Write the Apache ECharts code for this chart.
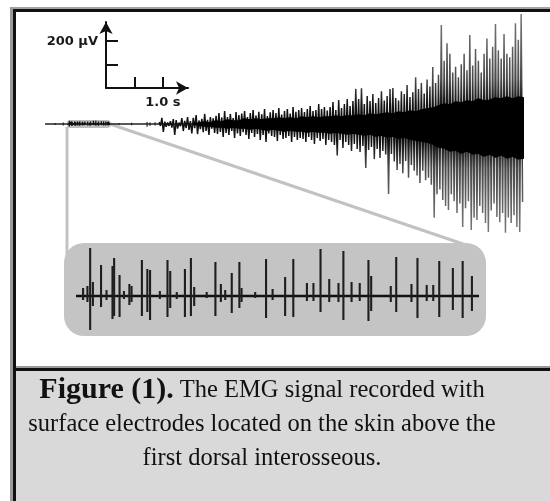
<!DOCTYPE html>
<html>
<head>
<meta charset="utf-8">
<title>EMG signal</title>
<script src="https://cdn.jsdelivr.net/npm/echarts@6/dist/echarts.min.js"></script>
<style>
html, body { margin: 0; padding: 0; background: #fff; }
#emg { width: 550px; height: 501px; }
</style>
</head>
<body>
<div id="emg"></div>
<script>
// recording: spike peaks (µV) sampled every 0.05 s from 2.0 s
const spikeStart = 2.0;
const spikeStep = 0.05;
const spikeHigh = [
  8, 26, 10, 6, 12, 21, 17, 6, 25, 13,
  30, 12, 26, 38, 15, 22, 43, 18, 30, 24,
  35, 47, 28, 55, 30, 43, 25, 51, 38, 45,
  55, 30, 47, 60, 36, 52, 42, 64, 34, 50,
  60, 47, 68, 40, 55, 64, 45, 72, 52, 60,
  68, 51, 64, 77, 55, 60, 85, 64, 72, 58,
  72, 94, 60, 102, 68, 85, 107, 77, 98, 150,
  107, 153, 85, 120, 98, 128, 90, 111, 140, 100,
  120, 150, 154, 111, 100, 140, 128, 167, 115, 136,
  200, 150, 175, 130, 190, 160, 243, 175, 210, 423,
  270, 345, 300, 220, 245, 200, 255, 300, 230, 380,
  250, 320, 270, 220, 300, 365, 280, 330, 427, 315,
  280, 385, 300, 285, 330, 430, 360, 470
];
const spikeLow = [
  -8, -34, -12, -8, -15, -47, -20, -10, -30, -17,
  -25, -40, -18, -43, -22, -35, -30, -47, -20, -38,
  -43, -34, -55, -38, -47, -30, -60, -40, -51, -35,
  -47, -64, -38, -55, -43, -68, -47, -77, -40, -51,
  -55, -72, -47, -64, -60, -51, -77, -55, -68, -60,
  -64, -77, -55, -68, -85, -60, -72, -64, -90, -68,
  -77, -90, -135, -68, -102, -77, -90, -115, -85, -107,
  -120, -94, -188, -111, -98, -150, -107, -145, -115, -130,
  -299, -128, -160, -196, -171, -210, -158, -230, -175, -200,
  -220, -252, -200, -240, -230, -260, -401, -300, -280, -325,
  -350, -367, -300, -330, -380, -340, -440, -360, -330, -453,
  -401, -410, -350, -380, -423, -461, -370, -340, -397, -420,
  -380, -465, -400, -423, -390, -440, -461, -333
];

// isolated blips before the contraction starts
const earlyTime = [0.18, 0.32, 1.30, 1.52, 1.79, 1.84, 1.93];
const earlyHigh = [4, 6, 4, 5, 9, 6, 8];
const earlyLow = [-4, -6, -4, -5, -12, -8, -6];

// dense black core of the signal (µV), every 0.1 s from 2.6 s
const coreTime = [2.6, 2.7, 2.8, 2.9, 3.0, 3.1, 3.2, 3.3, 3.4, 3.5,
  3.6, 3.7, 3.8, 3.9, 4.0, 4.1, 4.2, 4.3, 4.4, 4.5,
  4.6, 4.7, 4.8, 4.9, 5.0, 5.1, 5.2, 5.3, 5.4, 5.5,
  5.6, 5.7, 5.8, 5.9, 6.0, 6.1, 6.2, 6.3, 6.4, 6.5,
  6.6, 6.7, 6.8, 6.9, 7.0, 7.1, 7.2, 7.3, 7.4, 7.5,
  7.6, 7.7, 7.8, 7.9, 8.0, 8.1, 8.2, 8.3, 8.4];
const coreHigh = [0, 4, 9, 4, 13, 9, 17, 13, 13, 21,
  17, 21, 17, 21, 21, 26, 21, 26, 21, 30,
  26, 30, 26, 30, 30, 34, 30, 34, 34, 38,
  34, 43, 38, 43, 47, 43, 51, 47, 56, 51,
  60, 64, 68, 77, 85, 81, 94, 90, 98, 94,
  107, 98, 102, 111, 107, 115, 107, 115, 111];
const coreLow = [0, -4, -9, -9, -13, -13, -17, -13, -17, -17,
  -21, -17, -21, -26, -21, -26, -30, -26, -30, -30,
  -34, -30, -34, -34, -38, -34, -38, -43, -38, -43,
  -47, -43, -51, -47, -56, -51, -60, -56, -64, -68,
  -73, -77, -85, -98, -102, -115, -111, -124, -115, -128,
  -124, -137, -128, -141, -132, -145, -137, -149, -145];

// magnified window 0.40 - 1.14 s
const zoomStart = 0.40;
const zoomEnd = 1.14;
const zoomTime = [0.413, 0.421, 0.426, 0.431, 0.446, 0.456, 0.467, 0.470, 0.480, 0.488,
  0.498, 0.502, 0.521, 0.531, 0.536, 0.554, 0.568, 0.573, 0.585, 0.600,
  0.611, 0.617, 0.640, 0.656, 0.666, 0.674, 0.686, 0.700, 0.704, 0.729,
  0.749, 0.761, 0.784, 0.799, 0.824, 0.836, 0.849, 0.865, 0.882, 0.891,
  0.906, 0.921, 0.937, 0.942, 0.978, 0.988, 1.016, 1.027, 1.044, 1.056,
  1.067, 1.092, 1.110, 1.127];
const zoomHigh = [2.4, 3.0, 14.4, 4.2, 9.3, 1.8, 9.0, 11.4, 6.3, 1.5,
  3.6, 3.0, 10.8, 8.1, 7.8, 1.5, 10.8, 7.5, 1.2, 8.1,
  11.4, 2.7, 1.2, 10.2, 3.6, 1.8, 6.9, 10.2, 2.4, 1.2,
  11.1, 2.1, 5.7, 11.1, 3.9, 3.9, 14.1, 5.1, 3.9, 13.5,
  4.2, 3.9, 10.8, 6.0, 3.0, 11.7, 3.6, 11.4, 3.3, 3.3,
  10.5, 8.4, 10.5, 6.0];
const zoomLow = [-1.2, -1.8, -10.2, -3.0, -3.3, -1.2, -6.9, -6.0, -6.3, -0.9,
  -2.7, -1.8, -6.0, -4.8, -7.2, -0.9, -6.3, -3.6, -0.9, -6.3,
  -6.0, -3.0, -0.6, -6.0, -1.8, -1.2, -5.1, -3.6, -1.8, -0.6,
  -6.6, -1.2, -6.0, -6.3, -1.5, -1.5, -4.8, -1.8, -1.8, -7.2,
  -1.8, -1.5, -7.5, -4.5, -1.8, -4.8, -1.8, -6.6, -1.5, -1.5,
  -6.3, -4.2, -6.6, -4.5];

// scale bar
const barTimeTicks = [0.5, 1.0];
const barTimeLabels = ['', '1.0 s'];
const barVoltTicks = [100, 200];
const barVoltLabels = ['', '200 µV'];

const captionLines = [
  '{b|Figure (1).} The EMG signal recorded with',
  'surface electrodes located on the skin above the',
  'first dorsal interosseous.'
];

// 数据整理：每个采样先到正峰，半步后到负峰
const spikeTrace = [];
spikeHigh.forEach((h, i) => {
  const t = spikeStart + i * spikeStep;
  spikeTrace.push([+t.toFixed(3), h]);
  spikeTrace.push([+(t + spikeStep / 2).toFixed(3), spikeLow[i]]);
});
const earlySpikes = earlyTime.map((t, i) => [t, earlyLow[i], earlyHigh[i]]);
const zoomSpikes = zoomTime.map((t, i) => [t, zoomLow[i], zoomHigh[i]]);

// 竖线形式画单个尖峰
function spikeRenderer(width, color) {
  return function (params, api) {
    const t = api.value(0);
    const top = api.coord([t, api.value(2)]);
    const bottom = api.coord([t, api.value(1)]);
    return {
      type: 'line',
      shape: { x1: top[0], y1: top[1], x2: bottom[0], y2: bottom[1] },
      style: { stroke: color, lineWidth: width }
    };
  };
}

const barAxisFont = { fontFamily: 'DejaVu Sans', fontWeight: 'bold', fontSize: 13, color: '#1a1a1a' };
const traceColor = new echarts.graphic.LinearGradient(0, 0, 0, 1, [
  { offset: 0, color: '#7a7a7a' },
  { offset: 0.3, color: '#4a4a4a' },
  { offset: 0.42, color: '#111' },
  { offset: 0.58, color: '#111' },
  { offset: 0.7, color: '#4a4a4a' },
  { offset: 1, color: '#7a7a7a' }
]);

const option = {
  animation: false,
  backgroundColor: '#fff',
  grid: [
    { left: 45, top: 14, width: 479, height: 220, outerBoundsMode: 'none' },
    { left: 76, top: 246, width: 403, height: 100, outerBoundsMode: 'none' },
    { left: 106, top: 22, width: 82, height: 66, outerBoundsMode: 'none' }
  ],
  xAxis: [
    { gridIndex: 0, type: 'value', min: 0, max: 8.4, show: false },
    { gridIndex: 1, type: 'value', min: zoomStart, max: zoomEnd, show: false },
    {
      gridIndex: 2, type: 'value', min: 0, max: 1.44,
      splitLine: { show: false },
      axisLine: { show: true, symbol: ['none', 'arrow'], symbolSize: [10, 12], lineStyle: { color: '#111', width: 2 } },
      axisTick: { show: true, inside: true, length: 11, customValues: barTimeTicks, lineStyle: { color: '#111', width: 2 } },
      axisLabel: Object.assign({ margin: 8, customValues: barTimeTicks,
        formatter: v => barTimeLabels[barTimeTicks.indexOf(v)] || '' }, barAxisFont)
    }
  ],
  yAxis: [
    { gridIndex: 0, type: 'value', min: -470, max: 470, show: false },
    { gridIndex: 1, type: 'value', min: -15, max: 15, show: false },
    {
      gridIndex: 2, type: 'value', min: 0, max: 282,
      splitLine: { show: false },
      axisLine: { show: true, symbol: ['none', 'arrow'], symbolSize: [10, 12], lineStyle: { color: '#111', width: 2 } },
      axisTick: { show: true, inside: true, length: 12, customValues: barVoltTicks, lineStyle: { color: '#111', width: 2 } },
      axisLabel: Object.assign({ margin: 8, customValues: barVoltTicks,
        formatter: v => barVoltLabels[barVoltTicks.indexOf(v)] || '' }, barAxisFont)
    }
  ],
  series: [
    {
      name: 'baseline', type: 'line', xAxisIndex: 0, yAxisIndex: 0,
      data: [[0, 0], [8.4, 0]], symbol: 'none', z: 2,
      lineStyle: { color: '#222', width: 1.3 }
    },
    {
      name: 'trace', type: 'line', xAxisIndex: 0, yAxisIndex: 0,
      data: spikeTrace, symbol: 'none', z: 2,
      lineStyle: { color: traceColor, width: 1.5 }
    },
    {
      name: 'core-high', type: 'line', xAxisIndex: 0, yAxisIndex: 0,
      data: coreTime.map((t, i) => [t, coreHigh[i]]), symbol: 'none', z: 3,
      lineStyle: { color: '#000', width: 1.5 }, areaStyle: { color: '#000', opacity: 1 }
    },
    {
      name: 'core-low', type: 'line', xAxisIndex: 0, yAxisIndex: 0,
      data: coreTime.map((t, i) => [t, coreLow[i]]), symbol: 'none', z: 3,
      lineStyle: { color: '#000', width: 1.5 }, areaStyle: { color: '#000', opacity: 1 }
    },
    {
      name: 'early', type: 'custom', xAxisIndex: 0, yAxisIndex: 0,
      data: earlySpikes, encode: { x: 0, y: [1, 2] },
      renderItem: spikeRenderer(1.2, '#222'), z: 4
    },
    {
      name: 'window', type: 'custom', xAxisIndex: 0, yAxisIndex: 0,
      data: zoomSpikes, encode: { x: 0, y: [1, 2] },
      renderItem: spikeRenderer(1.3, '#111'), z: 4
    },
    {
      name: 'zoom-baseline', type: 'line', xAxisIndex: 1, yAxisIndex: 1,
      data: [[zoomStart, 0], [zoomEnd, 0]], symbol: 'none',
      lineStyle: { color: '#111', width: 2.4 }, z: 3
    },
    {
      name: 'zoom-spikes', type: 'custom', xAxisIndex: 1, yAxisIndex: 1,
      data: zoomSpikes, encode: { x: 0, y: [1, 2] },
      renderItem: spikeRenderer(2.1, '#1e1e1e'), z: 4
    }
  ]
};

const chart = echarts.init(document.getElementById('emg'));
chart.setOption(option);

// 放大框、连接线、边框和图注
const a = chart.convertToPixel({ gridIndex: 0 }, [zoomStart, 0]);
const b = chart.convertToPixel({ gridIndex: 0 }, [zoomEnd, 0]);
const c = chart.convertToPixel({ gridIndex: 1 }, [zoomStart, 15]);
const d = chart.convertToPixel({ gridIndex: 1 }, [zoomEnd, -15]);
const box = { x: c[0] - 12, y: c[1] - 3, width: d[0] - c[0] + 19, height: 93, r: 20 };
const connector = { stroke: '#c2c2c2', lineWidth: 3 };

chart.setOption({
  graphic: [
    { type: 'rect', z: 0, shape: { x: a[0] - 1, y: a[1] - 4, width: b[0] - a[0] + 2, height: 8, r: 4 }, style: { fill: '#bdbdbd' } },
    { type: 'line', z: 0, shape: { x1: box.x + 3, y1: a[1] + 3, x2: box.x + 3, y2: box.y + 20 }, style: connector },
    { type: 'line', z: 0, shape: { x1: b[0], y1: a[1], x2: box.x + box.width - 20, y2: box.y + 2 }, style: connector },
    { type: 'rect', z: 0, shape: box, style: { fill: '#c4c4c4' } },
    // frame
    { type: 'rect', z: 5, shape: { x: 16, y: 367, width: 534, height: 134 }, style: { fill: '#d9d9d9' } },
    { type: 'rect', z: 6, shape: { x: 16, y: 366, width: 534, height: 2 }, style: { fill: '#9a9a9a' } },
    { type: 'rect', z: 6, shape: { x: 16, y: 368, width: 534, height: 3 }, style: { fill: '#111' } },
    { type: 'rect', z: 6, shape: { x: 10, y: 7, width: 540, height: 2 }, style: { fill: '#a3a3a3' } },
    { type: 'rect', z: 6, shape: { x: 10, y: 7, width: 3, height: 494 }, style: { fill: '#9a9a9a' } },
    { type: 'rect', z: 7, shape: { x: 13, y: 9, width: 537, height: 3 }, style: { fill: '#111' } },
    { type: 'rect', z: 7, shape: { x: 13, y: 9, width: 3, height: 492 }, style: { fill: '#111' } },
    {
      type: 'text', z: 8, x: 262, y: 373,
      style: {
        text: captionLines.join('\n'),
        fontFamily: 'Liberation Serif', fontSize: 24.5, lineHeight: 34.3, fill: '#111',
        align: 'center', verticalAlign: 'top', textAlign: 'center', textVerticalAlign: 'top',
        rich: { b: { fontFamily: 'Liberation Serif', fontWeight: 'bold', fontSize: 30, lineHeight: 34.3, fill: '#111' } }
      }
    }
  ]
});

window.addEventListener('resize', () => chart.resize());
</script>
</body>
</html>
